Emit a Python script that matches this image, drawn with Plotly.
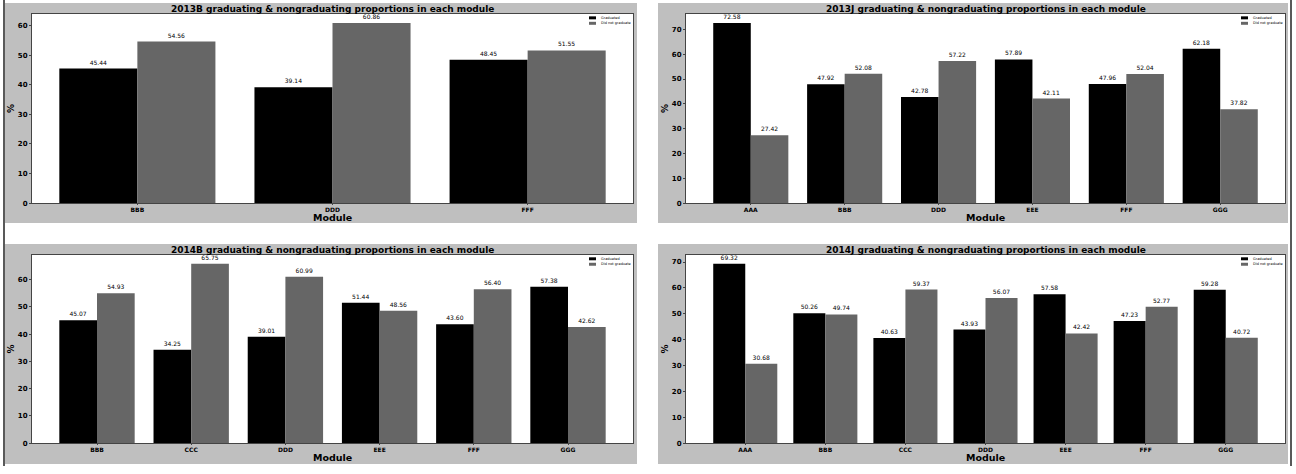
import plotly.graph_objects as go

W, H = 1296, 474

# ---- data ----
titles = ["2013B", "2013J", "2014B", "2014J"]
series_names = ["Graduated", "Did not graduate"]

mods_2013B = ["BBB", "DDD", "FFF"]
grad_2013B = [45.44, 39.14, 48.45]
nongrad_2013B = [54.56, 60.86, 51.55]

mods_2013J = ["AAA", "BBB", "DDD", "EEE", "FFF", "GGG"]
grad_2013J = [72.58, 47.92, 42.78, 57.89, 47.96, 62.18]
nongrad_2013J = [27.42, 52.08, 57.22, 42.11, 52.04, 37.82]

mods_2014B = ["BBB", "CCC", "DDD", "EEE", "FFF", "GGG"]
grad_2014B = [45.07, 34.25, 39.01, 51.44, 43.60, 57.38]
nongrad_2014B = [54.93, 65.75, 60.99, 48.56, 56.40, 42.62]

mods_2014J = ["AAA", "BBB", "CCC", "DDD", "EEE", "FFF", "GGG"]
grad_2014J = [69.32, 50.26, 40.63, 43.93, 57.58, 47.23, 59.28]
nongrad_2014J = [30.68, 49.74, 59.37, 56.07, 42.42, 52.77, 40.72]

panels = [
    (titles[0], mods_2013B, grad_2013B, nongrad_2013B),
    (titles[1], mods_2013J, grad_2013J, nongrad_2013J),
    (titles[2], mods_2014B, grad_2014B, nongrad_2014B),
    (titles[3], mods_2014J, grad_2014J, nongrad_2014J),
]

FONT = "DejaVu Sans"
GRAY_BG = "#bfbfbf"
C_GRAD = "#000000"
C_NON = "#666666"
COLORS = [C_GRAD, C_NON]


def px(x):
    return x / W


def py(y):
    return 1 - y / H


# pixel geometry of each panel: (plot x0, x1, y0(top), y1(bottom)), (bg x0, x1, y0, y1)
geo = [
    ((32, 633, 14, 205), (5, 637, 3, 225)),
    ((686, 1285, 14, 205), (658, 1288, 3, 225)),
    ((32, 633, 257, 447), (5, 637, 246, 468)),
    ((686, 1285, 257, 447), (658, 1288, 246, 468)),
]

fig = go.Figure()
layout = dict(
    width=W, height=H,
    margin=dict(l=0, r=0, t=0, b=0),
    paper_bgcolor="white",
    plot_bgcolor="white",
    barmode="group",
    bargap=0.2,
    bargroupgap=0,
    showlegend=False,
    font=dict(family=FONT, color="black"),
)
shapes = []
annotations = []

for i, (title, mods, grad, non) in enumerate(panels):
    k = "" if i == 0 else str(i + 1)
    xa, ya = "x" + k, "y" + k
    (x0, x1, y0, y1), (bx0, bx1, by0, by1) = geo[i]
    n = len(mods)
    marg = 0.05 * (n - 1 + 0.8)
    ymax = max(max(grad), max(non)) * 1.05

    for name, vals, col in zip(series_names, (grad, non), COLORS):
        fig.add_trace(go.Bar(
            x=mods, y=vals, name=name, marker=dict(color=col, line=dict(width=0)),
            xaxis=xa, yaxis=ya,
            text=[f"{v:.2f}" for v in vals], textposition="outside",
            textfont=dict(size=6, family=FONT, color="black"),
            cliponaxis=False,
        ))

    layout["xaxis" + k] = dict(
        domain=[px(x0), px(x1)], anchor=ya,
        range=[-0.4 - marg, n - 1 + 0.4 + marg],
        showline=True, mirror=True, linecolor="#444444", linewidth=1,
        ticks="outside", ticklen=1, tickcolor="#444444",
        tickfont=dict(size=6, family=FONT, weight="bold"),
        showgrid=False, fixedrange=True,
    )
    layout["yaxis" + k] = dict(
        domain=[py(y1), py(y0)], anchor=xa,
        range=[0, ymax], dtick=10,
        showline=True, mirror=True, linecolor="#444444", linewidth=1,
        ticks="outside", ticklen=2, tickcolor="#444444",
        tickfont=dict(size=7, family=FONT, weight="bold"),
        title=dict(text="%", font=dict(size=9, family=FONT, weight="bold"), standoff=1),
        showgrid=False, zeroline=False, fixedrange=True,
    )
    # panel background (gray) and white plotting area
    shapes.append(dict(type="rect", xref="paper", yref="paper",
                       x0=px(bx0), x1=px(bx1), y0=py(by1), y1=py(by0),
                       fillcolor=GRAY_BG, line=dict(width=0), layer="below"))
    shapes.append(dict(type="rect", xref="paper", yref="paper",
                       x0=px(x0), x1=px(x1), y0=py(y1), y1=py(y0),
                       fillcolor="white", line=dict(width=0), layer="below"))
    # title
    annotations.append(dict(
        text=f"{title} graduating & nongraduating proportions in each module",
        xref="paper", yref="paper", x=px((x0 + x1) / 2), y=py(by0 + 6),
        xanchor="center", yanchor="middle", showarrow=False,
        font=dict(size=9, family=FONT, weight="bold", color="black"),
    ))
    # x axis title
    annotations.append(dict(
        text="Module", xref="paper", yref="paper", x=px((x0 + x1) / 2), y=py(y1 + 14),
        xanchor="center", yanchor="middle", showarrow=False,
        font=dict(size=9.5, family=FONT, weight="bold", color="black"),
    ))
    # small legend in the upper right corner
    lx = x1 - 44
    for j, (name, col) in enumerate(zip(series_names, COLORS)):
        ly = y0 + 4 + 5.5 * j
        shapes.append(dict(type="rect", xref="paper", yref="paper",
                           x0=px(lx), x1=px(lx + 7), y0=py(ly + 1.5), y1=py(ly - 1.5),
                           fillcolor=col, line=dict(width=0)))
        annotations.append(dict(
            text=name, xref="paper", yref="paper", x=px(lx + 10), y=py(ly),
            xanchor="left", yanchor="middle", showarrow=False,
            font=dict(size=3.5, family=FONT, color="black"),
        ))

# thin dark frame lines at left and right edges
shapes.append(dict(type="line", xref="paper", yref="paper", x0=px(4), x1=px(4),
                   y0=py(470), y1=py(0), line=dict(color="#222222", width=1.5)))
shapes.append(dict(type="line", xref="paper", yref="paper", x0=px(1291), x1=px(1291),
                   y0=py(470), y1=py(0), line=dict(color="#222222", width=1.5)))

layout["shapes"] = shapes
layout["annotations"] = annotations
fig.update_layout(**layout)
fig.write_html("out.html", config={"displayModeBar": False},
               post_script="document.body.style.margin='0';")
